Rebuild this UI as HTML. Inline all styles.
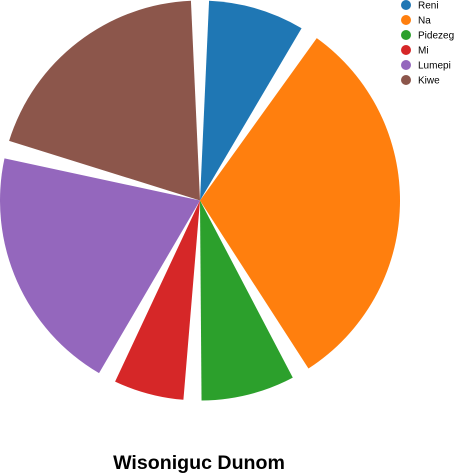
<!DOCTYPE html>
<html><head><meta charset="utf-8"><style>
body{margin:0;background:#fff;font-family:"Liberation Sans",sans-serif}
svg{display:block}
</style></head><body>
<svg id="c" width="457" height="474">
<g id="slices"></g>
<g id="legend"></g>
<text x="199" y="469" text-anchor="middle" font-size="19.6" font-weight="bold" fill="#000">Wisoniguc Dunom</text>
</svg>
<script>
const labels=["Reni","Na","Pidezeg","Mi","Lumepi","Kiwe"];
const values=[9.2,32.4,9.0,7.1,21.4,20.9];
const colors=["#1f77b4","#ff7f0e","#2ca02c","#d62728","#9467bd","#8c564b"];
const ns="http://www.w3.org/2000/svg";
const cx=200,cy=200.5,r=200,pad=2.6*Math.PI/180;
const total=values.reduce((a,b)=>a+b,0);
let a=0;
const sg=document.getElementById('slices');
function pt(t,rr){return [cx+rr*Math.sin(t),cy-rr*Math.cos(t)];}
values.forEach((v,i)=>{
  const span=v/total*2*Math.PI;
  const a0=a+pad,a1=a+span-pad;
  const p0=pt(a0,r),p1=pt(a1,r);
  const p=document.createElementNS(ns,'path');
  p.setAttribute('d',`M${cx},${cy}L${p0[0]},${p0[1]}A${r},${r} 0 ${(a1-a0)>Math.PI?1:0} 1 ${p1[0]},${p1[1]}Z`);
  p.setAttribute('fill',colors[i]);
  
  
  sg.appendChild(p);
  a+=span;
});
const lg=document.getElementById('legend');
labels.forEach((l,i)=>{
  const g=document.createElementNS(ns,'g');
  
  
  const c=document.createElementNS(ns,'circle');
  c.setAttribute('cx',406);c.setAttribute('cy',5+15*i);c.setAttribute('r',5);c.setAttribute('fill',colors[i]);
  const t=document.createElementNS(ns,'text');
  t.setAttribute('x',418);t.setAttribute('y',8.5+15*i);t.setAttribute('font-size',10);t.textContent=l;
  g.appendChild(c);g.appendChild(t);lg.appendChild(g);
});
</script>
</body></html>
